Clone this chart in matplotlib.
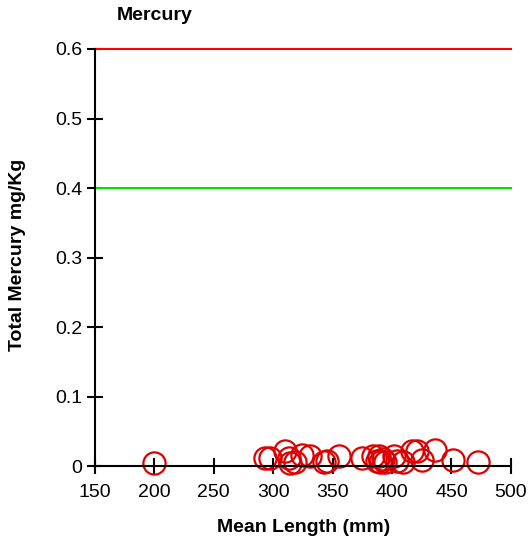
import matplotlib
matplotlib.use('Agg')
import matplotlib.pyplot as plt

plt.rcParams['font.family'] = ['Liberation Sans', 'DejaVu Sans']

# mean length (mm) and total mercury (mg/kg)
length = [200, 293, 297, 310, 313, 314, 318, 324, 331, 343, 345, 355, 375, 384,
          387, 389, 390, 392, 394, 402, 404, 409, 417, 421, 425, 436, 451, 472]
mercury = [0.005, 0.012, 0.012, 0.022, 0.012, 0.004, 0.006, 0.016, 0.015, 0.006,
           0.008, 0.015, 0.012, 0.015, 0.007, 0.015, 0.006, 0.011, 0.006, 0.014,
           0.008, 0.006, 0.022, 0.022, 0.009, 0.023, 0.009, 0.006]

# guideline levels
red_level = 0.6
green_level = 0.4

fig = plt.figure(figsize=(5.3, 5.44), dpi=100)
ax = fig.add_axes([0.179, 0.143, 0.785, 0.767])

ax.plot([150, 500], [red_level, red_level], c='#ff0000', lw=1.5, clip_on=False)
ax.plot([150, 500], [green_level, green_level], c='#00e000', lw=1.5, clip_on=False)
ax.plot(length, mercury, 'o', mfc='none', mec='#dd0000', ms=16, mew=1.6, clip_on=False)

ax.set_xlim(150, 500)
ax.set_ylim(0, 0.6)
ax.set_xticks(range(150, 501, 50))
ax.set_yticks([0, 0.1, 0.2, 0.3, 0.4, 0.5, 0.6])
ax.set_yticklabels(['0', '0.1', '0.2', '0.3', '0.4', '0.5', '0.6'])
ax.spines['top'].set_visible(False)
ax.spines['right'].set_visible(False)
ax.spines['left'].set_linewidth(1.5)
ax.spines['bottom'].set_linewidth(1.5)
ax.tick_params(direction='inout', length=12, width=1.5, labelsize=14)
ax.tick_params(axis='x', pad=7)
ax.tick_params(axis='y', pad=3)

fig.text(304 / 530, 1 - 528 / 544, 'Mean Length (mm)', fontsize=14, fontweight='bold',
         ha='center', va='center')
fig.text(18 / 530, 1 - 255 / 544, 'Total Mercury mg/Kg', fontsize=14, fontweight='bold',
         ha='center', va='center', rotation=90)
fig.text(117 / 530, 1 - 16 / 544, 'Mercury', fontsize=14, fontweight='bold', va='center')

fig.savefig('out.png')
